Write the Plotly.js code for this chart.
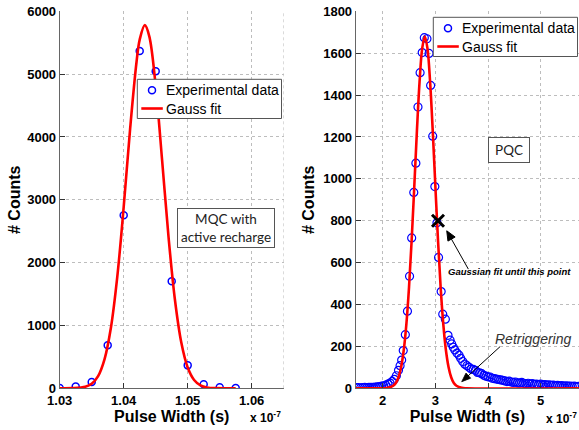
<!DOCTYPE html>
<html>
<head>
<meta charset="utf-8">
<script src="https://cdn.plot.ly/plotly-3.0.1.min.js"></script>
<style>html,body{margin:0;padding:0;background:#fff;}#chart{width:579px;height:430px;}</style>
</head>
<body>
<div id="chart"></div>
<script>
// ---- Left panel: MQC with active recharge (x in units of 1e-7 s) ----
const mqcX = [1.0300, 1.0325, 1.0350, 1.0375, 1.0400, 1.0425, 1.0450, 1.0475, 1.0500, 1.0525, 1.0550, 1.0575];
const mqcY = [3, 30, 100, 685, 2755, 5370, 5045, 1705, 365, 65, 15, 5];
const mqcFitX = [1.0300, 1.0320, 1.0340, 1.0350, 1.0360, 1.0370, 1.0380, 1.0390, 1.0400, 1.0410, 1.0420, 1.0425, 1.0433, 1.0440, 1.0450, 1.0460, 1.0470, 1.0480, 1.0490, 1.0500, 1.0510, 1.0520, 1.0530, 1.0545, 1.0575];
const mqcFitY = [0, 2, 23, 71, 193, 460, 964, 1778, 2886, 4125, 5189, 5549, 5780, 5602, 4807, 3631, 2414, 1413, 728, 330, 132, 46, 14, 2, 0];

// ---- Right panel: PQC ----
const pqcX = [1.50, 1.54, 1.58, 1.62, 1.66, 1.70, 1.74, 1.78, 1.82, 1.86, 1.90, 1.94, 1.98, 2.02, 2.06, 2.10, 2.14, 2.18, 2.22, 2.26, 2.30,
  2.33, 2.36, 2.39, 2.43, 2.47, 2.51, 2.55, 2.59, 2.63, 2.67, 2.71, 2.75, 2.79, 2.84, 2.88, 2.91, 2.95, 2.99, 3.03, 3.06, 3.11, 3.14, 3.19,
  3.24, 3.28, 3.31, 3.34, 3.37, 3.41, 3.45, 3.48, 3.52, 3.56, 3.60, 3.64, 3.68, 3.72, 3.76, 3.80, 3.84, 3.88, 3.92, 3.96,
  4.00, 4.04, 4.08, 4.12, 4.16, 4.20, 4.24, 4.28, 4.32, 4.36, 4.40, 4.44, 4.48, 4.52, 4.56, 4.60, 4.64, 4.68, 4.72, 4.76,
  4.80, 4.84, 4.88, 4.92, 4.96, 5.00, 5.04, 5.08, 5.12, 5.16, 5.20, 5.24, 5.28, 5.32, 5.36, 5.40, 5.44, 5.48, 5.52, 5.56,
  5.60, 5.64, 5.68, 5.72];
const pqcY = [3, 3, 2, 3, 4, 3, 4, 5, 4, 6, 7, 8, 10, 12, 15, 20, 25, 33, 43, 60, 86,
  108, 135, 180, 256, 368, 535, 718, 935, 1075, 1343, 1507, 1603, 1674, 1669, 1599, 1446, 1204, 963, 790, 625, 462, 354, 330,
  253, 230, 212, 196, 183, 168, 158, 143, 128, 115, 108, 100, 92, 90, 86, 76, 74, 70, 62, 58,
  55, 54, 48, 46, 44, 42, 40, 38, 35, 32, 34, 30, 28, 30, 26, 25, 28, 24, 22, 24,
  20, 22, 19, 20, 18, 20, 16, 18, 15, 17, 14, 15, 13, 14, 12, 13, 11, 12, 10, 11,
  9, 10, 8, 9];
const pqcFitX = [1.49, 2.00, 2.10, 2.20, 2.25, 2.30, 2.35, 2.40, 2.45, 2.50, 2.55, 2.60, 2.65, 2.70, 2.75, 2.80, 2.85, 2.90, 2.95, 3.00, 3.05, 3.10, 3.15, 3.20, 3.25, 3.30, 3.35, 3.40, 3.50, 3.60, 5.73];
const pqcFitY = [0, 0, 2, 12, 25, 53, 102, 183, 308, 483, 707, 965, 1230, 1463, 1623, 1680, 1623, 1463, 1230, 965, 707, 483, 308, 183, 102, 53, 25, 12, 2, 0, 0];

const cutX = [3.05];
const cutY = [800];

const seriesNames = ['Experimental data', 'Gauss fit'];

const W = 579, H = 430;
const px = v => v / W;
const py = v => (H - v) / H;

const BLUE = '#0000ff', RED = '#ff0000';
const FONT = 'Liberation Sans, Arial, sans-serif';
const tickFont = {family: FONT, size: 13, color: '#000', weight: 700};
const titleFont = {family: FONT, size: 16, color: '#000', weight: 700};

const traces = [
  {x: mqcX, y: mqcY, xaxis: 'x', yaxis: 'y', mode: 'markers', name: seriesNames[0], showlegend: false,
   marker: {symbol: 'circle-open', size: 7, color: BLUE, line: {width: 1.5, color: BLUE}}},
  {x: mqcFitX, y: mqcFitY, xaxis: 'x', yaxis: 'y', mode: 'lines', name: seriesNames[1], showlegend: false,
   line: {color: RED, width: 2.6, shape: 'spline', smoothing: 1}},
  {x: pqcX, y: pqcY, xaxis: 'x2', yaxis: 'y2', mode: 'markers', name: seriesNames[0], showlegend: false,
   marker: {symbol: 'circle-open', size: 8, color: BLUE, line: {width: 1.2, color: BLUE}}},
  {x: pqcFitX, y: pqcFitY, xaxis: 'x2', yaxis: 'y2', mode: 'lines', name: seriesNames[1], showlegend: false,
   line: {color: RED, width: 2.6, shape: 'spline', smoothing: 1}},
  {x: cutX, y: cutY, xaxis: 'x2', yaxis: 'y2', mode: 'markers', showlegend: false, hoverinfo: 'skip',
   marker: {symbol: 'x-thin', size: 12, color: '#000', line: {width: 3, color: '#000'}}}
];

const yDom = [py(388.3), py(11.3)];
const axisCommon = {
  showline: true, linecolor: '#666', linewidth: 1,
  ticks: 'inside', ticklen: 5, tickcolor: '#333',
  showgrid: true, gridcolor: '#bdbdbd', griddash: 'dot', gridwidth: 1,
  zeroline: false, tickfont: tickFont, automargin: false
};

// hand-built legend boxes (box left/top in pixels)
function legendItems(left, top) {
  const shapes = [
    {type: 'rect', xref: 'paper', yref: 'paper', x0: px(left), x1: px(left + 144.2), y0: py(top), y1: py(top + 39.2),
     fillcolor: '#fff', line: {color: '#555', width: 1}},
    {type: 'circle', xref: 'paper', yref: 'paper', xsizemode: 'pixel', ysizemode: 'pixel',
     xanchor: px(left + 14.7), yanchor: py(top + 11), x0: -3.5, x1: 3.5, y0: -3.5, y1: 3.5,
     line: {color: BLUE, width: 1.5}},
    {type: 'line', xref: 'paper', yref: 'paper', x0: px(left + 4), x1: px(left + 25.5), y0: py(top + 29.2), y1: py(top + 29.2),
     line: {color: RED, width: 2.6}}
  ];
  const anns = [
    {xref: 'paper', yref: 'paper', x: px(left + 27), y: py(top + 11), xanchor: 'left', yanchor: 'middle',
     text: seriesNames[0], showarrow: false, font: {family: FONT, size: 14, color: '#000'}},
    {xref: 'paper', yref: 'paper', x: px(left + 27), y: py(top + 29.2), xanchor: 'left', yanchor: 'middle',
     text: seriesNames[1], showarrow: false, font: {family: FONT, size: 14, color: '#000'}}
  ];
  return {shapes, anns};
}
const legL = legendItems(137.3, 79.3);
const legR = legendItems(433.3, 17.3);

// arrows drawn as pixel-sized paths anchored at their heads
const arrowShapes = [
  {type: 'path', xref: 'x2', yref: 'y2', xsizemode: 'pixel', ysizemode: 'pixel', xanchor: 3.216, yanchor: 752,
   path: 'M21.6,-38.3 L2,-3.5', line: {color: '#000', width: 1}},
  {type: 'path', xref: 'x2', yref: 'y2', xsizemode: 'pixel', ysizemode: 'pixel', xanchor: 3.216, yanchor: 752,
   path: 'M0,0 L8.4,-6.2 L1.2,-10.3 Z', fillcolor: '#000', line: {color: '#000', width: 1}},
  {type: 'path', xref: 'x2', yref: 'y2', xsizemode: 'pixel', ysizemode: 'pixel', xanchor: 3.50, yanchor: 31.5,
   path: 'M38.3,35 L3,2.7', line: {color: '#000', width: 1}},
  {type: 'path', xref: 'x2', yref: 'y2', xsizemode: 'pixel', ysizemode: 'pixel', xanchor: 3.50, yanchor: 31.5,
   path: 'M0,0 L9,3.5 L4.3,8.6 Z', fillcolor: '#000', line: {color: '#000', width: 0.8}}
];

const layout = {
  width: W, height: H,
  margin: {l: 0, r: 0, t: 0, b: 0},
  paper_bgcolor: '#fff', plot_bgcolor: '#fff',
  showlegend: false,
  xaxis: Object.assign({}, axisCommon, {
    domain: [px(59.7), px(283.7)], range: [1.03, 1.065], tick0: 1.03, dtick: 0.01, tickformat: '.2f',
    anchor: 'y', title: {text: 'Pulse Width (s)', font: titleFont, standoff: 2}
  }),
  yaxis: Object.assign({}, axisCommon, {
    domain: yDom, range: [0, 6000], dtick: 1000, tickformat: 'd', exponentformat: 'none',
    anchor: 'x', title: {text: '# Counts', font: titleFont, standoff: 2}
  }),
  xaxis2: Object.assign({}, axisCommon, {
    domain: [px(355.7), 1], range: [1.4875, 5.727], tick0: 2, dtick: 1,
    anchor: 'y2', title: {text: 'Pulse Width (s)', font: titleFont, standoff: 2}
  }),
  yaxis2: Object.assign({}, axisCommon, {
    domain: yDom, range: [0, 1800], dtick: 200, tickformat: 'd', exponentformat: 'none',
    anchor: 'x2', title: {text: '# Counts', font: titleFont, standoff: 4}
  }),
  shapes: [
    {type: 'line', xref: 'x', yref: 'paper', x0: 1.065, x1: 1.065, y0: yDom[0], y1: yDom[1],
     line: {color: '#bdbdbd', width: 1, dash: 'dot'}}
  ].concat(legL.shapes, legR.shapes, arrowShapes),
  annotations: [
    {xref: 'paper', yref: 'paper', x: px(225.7), y: py(228), xanchor: 'center', yanchor: 'middle',
     text: 'MQC with<br>active recharge', showarrow: false, align: 'center',
     font: {family: 'Lato, sans-serif', size: 13.5, color: '#222'},
     bgcolor: '#fff', bordercolor: '#555', borderwidth: 1, width: 94, height: 36},
    {xref: 'paper', yref: 'paper', x: px(509.3), y: py(150.3), xanchor: 'center', yanchor: 'middle',
     text: 'PQC', showarrow: false,
     font: {family: 'Lato, sans-serif', size: 13.5, color: '#222'},
     bgcolor: '#fff', bordercolor: '#555', borderwidth: 1, width: 38, height: 22},
    {xref: 'paper', yref: 'paper', x: px(509), y: py(271.7), xanchor: 'center', yanchor: 'middle',
     text: '<b><i>Gaussian fit until this point</i></b>', showarrow: false,
     font: {family: FONT, size: 9.5, color: '#000'}},
    {xref: 'paper', yref: 'paper', x: px(533), y: py(339.3), xanchor: 'center', yanchor: 'middle',
     text: '<i>Retriggering</i>', showarrow: false,
     font: {family: FONT, size: 14, color: '#333'}},
    {xref: 'paper', yref: 'paper', x: px(265.5), y: py(417), xanchor: 'center', yanchor: 'middle',
     text: '<b>x 10<sup>-7</sup></b>', showarrow: false,
     font: {family: FONT, size: 12, color: '#000'}},
    {xref: 'paper', yref: 'paper', x: px(561), y: py(418), xanchor: 'center', yanchor: 'middle',
     text: '<b>x 10<sup>-7</sup></b>', showarrow: false,
     font: {family: FONT, size: 12, color: '#000'}}
  ].concat(legL.anns, legR.anns)
};

Plotly.newPlot('chart', traces, layout, {displayModeBar: false, staticPlot: true});
</script>
</body>
</html>
